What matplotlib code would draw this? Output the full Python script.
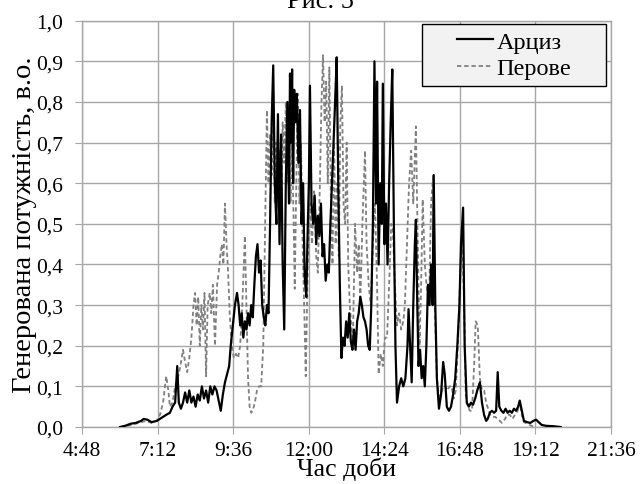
import numpy as np
import matplotlib
matplotlib.use('Agg')
import matplotlib.pyplot as plt
from matplotlib.ticker import FuncFormatter
from matplotlib.patches import Rectangle

plt.rcParams['font.family'] = ['Liberation Serif', 'DejaVu Serif']

# Арциз: час (хвилини від півночі) та генерована потужність, в.о.
arcyz_t = [360, 370, 380, 390, 400, 405, 412, 420, 430, 436, 442, 448, 455, 460, 465,
           469, 472, 476, 480, 484, 488, 492, 496, 500, 504, 508, 512, 516, 520, 524,
           528, 532, 536, 540, 544, 548, 552, 556, 560, 564, 568, 571, 575, 579, 583,
           586, 589, 592, 595, 598, 601, 604, 607, 610, 613, 616, 619, 622, 625, 628,
           631, 634, 637, 640, 643, 646, 649, 652, 655, 658, 661, 664, 667, 670, 673,
           676, 679, 682, 684, 686, 688, 690, 692, 694, 697, 700, 703, 706, 709, 712,
           715, 718, 720, 722, 725, 728, 731, 734, 737, 740, 743, 746, 749, 752, 755,
           758, 761, 764, 767, 770, 773, 776, 779, 782, 785, 788, 791, 794, 797, 800,
           803, 806, 809, 812, 815, 818, 821, 824, 827, 830, 833, 836, 839, 842, 845,
           848, 850, 853, 856, 859, 861, 864, 867, 870, 873, 876, 879, 882, 885, 888,
           892, 896, 900, 904, 908, 910, 913, 916, 919, 922, 924, 926, 929, 932, 935,
           938, 941, 944, 947, 950, 953, 956, 958, 961, 964, 968, 972, 976, 979, 983,
           987, 991, 995, 999, 1003, 1007, 1010, 1014, 1017, 1021, 1025, 1029, 1033, 1037, 1041,
           1046, 1050, 1054, 1058, 1061, 1065, 1069, 1073, 1077, 1080, 1083, 1087, 1091, 1095, 1099,
           1103, 1107, 1111, 1115, 1119, 1122, 1126, 1130, 1136, 1142, 1148, 1153, 1158, 1164, 1172,
           1185, 1200]
arcyz_p = [0.0, 0.003, 0.008, 0.01, 0.015, 0.02, 0.018, 0.012, 0.015, 0.02, 0.025, 0.03, 0.035, 0.05, 0.06,
           0.15, 0.06, 0.045, 0.06, 0.085, 0.06, 0.09, 0.06, 0.075, 0.05, 0.08, 0.065, 0.1, 0.07, 0.09,
           0.06, 0.1, 0.08, 0.1, 0.09, 0.065, 0.04, 0.08, 0.11, 0.13, 0.15, 0.2, 0.25, 0.3, 0.33,
           0.3, 0.25, 0.28, 0.22, 0.26, 0.24, 0.28, 0.25, 0.3, 0.27, 0.35, 0.42, 0.45, 0.38, 0.41,
           0.3, 0.27, 0.25, 0.3, 0.28, 0.5, 0.75, 0.89, 0.6, 0.5, 0.77, 0.45, 0.72, 0.4, 0.24,
           0.6, 0.8, 0.55, 0.87, 0.7, 0.88, 0.6, 0.83, 0.75, 0.82, 0.65, 0.78, 0.5, 0.6, 0.37,
           0.32, 0.5, 0.6, 0.84, 0.55, 0.5, 0.57, 0.45, 0.52, 0.47, 0.55, 0.42, 0.45, 0.36, 0.4,
           0.38, 0.5, 0.6, 0.7, 0.8, 0.91, 0.6, 0.35, 0.17, 0.22, 0.2, 0.26, 0.22, 0.28, 0.21,
           0.19, 0.24, 0.19, 0.26, 0.28, 0.32, 0.3, 0.27, 0.26, 0.24, 0.2, 0.19, 0.3, 0.5, 0.9,
           0.55, 0.85, 0.4, 0.6, 0.5, 0.845, 0.45, 0.55, 0.4, 0.6, 0.75, 0.88, 0.5, 0.2, 0.06,
           0.1, 0.12, 0.1, 0.12, 0.2, 0.29, 0.2, 0.11, 0.3, 0.45, 0.51, 0.35, 0.15, 0.19, 0.12,
           0.15, 0.1, 0.2, 0.35, 0.3, 0.4, 0.3, 0.62, 0.3, 0.12, 0.045, 0.08, 0.16, 0.13, 0.05,
           0.04, 0.05, 0.08, 0.12, 0.2, 0.3, 0.45, 0.54, 0.2, 0.06, 0.05, 0.06, 0.055, 0.07, 0.09,
           0.11, 0.06, 0.03, 0.015, 0.02, 0.035, 0.04, 0.035, 0.04, 0.135, 0.05, 0.04, 0.035, 0.045, 0.035,
           0.04, 0.035, 0.045, 0.04, 0.05, 0.065, 0.04, 0.015, 0.012, 0.01, 0.015, 0.018, 0.012, 0.005, 0.003,
           0.002, 0.0]

# Перове
perove_t = [360, 375, 390, 400, 410, 420, 430, 436, 442, 448, 452, 455, 460, 465, 470,
            475, 480, 484, 488, 492, 496, 500, 503, 506, 509, 512, 515, 518, 521, 524,
            527, 531, 534, 537, 541, 545, 548, 551, 554, 557, 560, 563, 566, 569, 573,
            577, 581, 585, 589, 593, 596, 598, 601, 604, 607, 610, 613, 617, 621, 625,
            629, 633, 636, 640, 643, 646, 649, 652, 655, 658, 661, 664, 667, 670, 673,
            676, 679, 682, 685, 688, 691, 693, 696, 699, 702, 705, 708, 711, 714, 718,
            722, 726, 730, 734, 737, 741, 744, 747, 750, 753, 756, 759, 762, 765, 768,
            771, 774, 777, 780, 783, 786, 789, 792, 795, 798, 801, 804, 808, 812, 815,
            818, 822, 827, 830, 834, 838, 842, 846, 850, 853, 857, 861, 865, 869, 873,
            877, 880, 884, 888, 892, 896, 900, 903, 907, 911, 915, 919, 924, 927, 931,
            934, 937, 941, 945, 949, 953, 957, 960, 964, 968, 972, 976, 980, 984, 988,
            992, 996, 1000, 1004, 1008, 1012, 1016, 1019, 1023, 1027, 1031, 1035, 1038, 1042, 1046,
            1050, 1054, 1058, 1062, 1066, 1070, 1075, 1080, 1088, 1094, 1098, 1103, 1108, 1113, 1118,
            1122, 1126, 1130, 1136, 1141, 1150]
perove_p = [0.0, 0.003, 0.008, 0.012, 0.015, 0.01, 0.015, 0.03, 0.06, 0.125, 0.09, 0.05, 0.06, 0.1, 0.12,
            0.15, 0.19, 0.16, 0.135, 0.17, 0.22, 0.3, 0.33, 0.25, 0.32, 0.2, 0.3, 0.24, 0.33, 0.125,
            0.3, 0.33, 0.28, 0.35, 0.2, 0.35, 0.38, 0.42, 0.45, 0.4, 0.55, 0.45, 0.38, 0.28, 0.2,
            0.17, 0.18, 0.17, 0.2, 0.3, 0.4, 0.47, 0.3, 0.12, 0.05, 0.035, 0.04, 0.06, 0.09, 0.1,
            0.1, 0.2, 0.45, 0.78, 0.6, 0.72, 0.62, 0.76, 0.55, 0.7, 0.6, 0.68, 0.51, 0.75, 0.65,
            0.8, 0.6, 0.75, 0.55, 0.7, 0.5, 0.34, 0.6, 0.82, 0.55, 0.7, 0.45, 0.3, 0.125, 0.4,
            0.55, 0.45, 0.58, 0.42, 0.38, 0.6, 0.8, 0.915, 0.75, 0.85, 0.6, 0.885, 0.55, 0.4, 0.7,
            0.45, 0.6, 0.42, 0.75, 0.84, 0.55, 0.5, 0.7, 0.4, 0.3, 0.25, 0.22, 0.5, 0.38, 0.45,
            0.3, 0.5, 0.68, 0.45, 0.35, 0.3, 0.45, 0.55, 0.35, 0.13, 0.18, 0.15, 0.22, 0.22, 0.35,
            0.5, 0.49, 0.35, 0.25, 0.28, 0.24, 0.26, 0.3, 0.45, 0.6, 0.68, 0.55, 0.74, 0.5, 0.2,
            0.35, 0.56, 0.4, 0.34, 0.3, 0.55, 0.62, 0.3, 0.12, 0.075, 0.08, 0.1, 0.1, 0.09, 0.1,
            0.1, 0.07, 0.09, 0.2, 0.35, 0.48, 0.3, 0.08, 0.05, 0.04, 0.04, 0.15, 0.26, 0.25, 0.12,
            0.09, 0.09, 0.06, 0.044, 0.03, 0.025, 0.025, 0.02, 0.01, 0.02, 0.03, 0.03, 0.02, 0.03, 0.04,
            0.06, 0.03, 0.012, 0.008, 0.005, 0.0]

x_ticks = [0.2, 0.3, 0.4, 0.5, 0.6, 0.7, 0.8, 0.9]   # частки доби, як в Excel
y_ticks = np.arange(0, 1.01, 0.1)

FS = 15.5       # підписи поділок
FS_LEG = 17.5
grid_c = '#a6a6a6'

W, H = 640, 485
L, R, T, B = 82.3, 611, 21.7, 428   # межі області побудови в пікселях

fig = plt.figure(figsize=(W / 100, H / 100), dpi=100)
ax = fig.add_axes([L / W, 1 - B / H, (R - L) / W, (B - T) / H])

ax.plot(np.array(arcyz_t) / 1440, arcyz_p, color='black', lw=1.6, label='Арциз', zorder=3)
ax.plot(np.array(perove_t) / 1440, perove_p, color='#808080', lw=1.3, dashes=(2.4, 1.6),
        label='Перове', zorder=2)

ax.set_xlim(0.2, 0.9)
ax.set_ylim(0, 1.0)
ax.set_xticks(x_ticks)
ax.set_yticks(y_ticks)


def fmt_time(v, pos):
    m = int(round(v * 1440))
    return f"{m // 60}:{m % 60:02d}"


ax.xaxis.set_major_formatter(FuncFormatter(fmt_time))
ax.yaxis.set_major_formatter(FuncFormatter(lambda v, p: f"{v:.1f}".replace('.', ',')))
ax.grid(True, color=grid_c, lw=1.0)
ax.set_axisbelow(True)
for s in ax.spines.values():
    s.set_color(grid_c)
    s.set_linewidth(1.0)
ax.tick_params(direction='out', length=4.75, color=grid_c, labelsize=FS)
ax.tick_params(axis='x', pad=5.5)
ax.tick_params(axis='y', pad=9)

ax.set_xlabel('Час доби', fontsize=18.5)
ax.xaxis.set_label_coords(0.5, -(458 - B) / (B - T))
ax.set_ylabel('Генерована потужність, в.о.', fontsize=20.5)
ax.yaxis.set_label_coords(-(L - 37) / (R - L), 0.5)

# рамка легенди (як в Excel: широкі бічні відступи)
lx0, lx1, ly0, ly1 = 422, 606, 25, 87
ax.add_patch(Rectangle(((lx0 - L) / (R - L), (B - ly1) / (B - T)),
                       (lx1 - lx0) / (R - L), (ly1 - ly0) / (B - T),
                       transform=ax.transAxes, facecolor='#f2f2f2', edgecolor='black',
                       lw=1.0, zorder=4))
leg = ax.legend(loc='center', bbox_to_anchor=(((lx0 + lx1) / 2 - L) / (R - L),
                                              (B - (ly0 + ly1) / 2) / (B - T)),
                fontsize=FS_LEG, frameon=False, handlelength=1.5, handletextpad=0.12,
                borderpad=0.0, labelspacing=0.2)
leg.set_zorder(5)

fig.text(0.5, 1 - 7.5 / H, 'Рис. 5', ha='center', va='baseline', fontsize=19)

fig.savefig('out.png', dpi=100)
